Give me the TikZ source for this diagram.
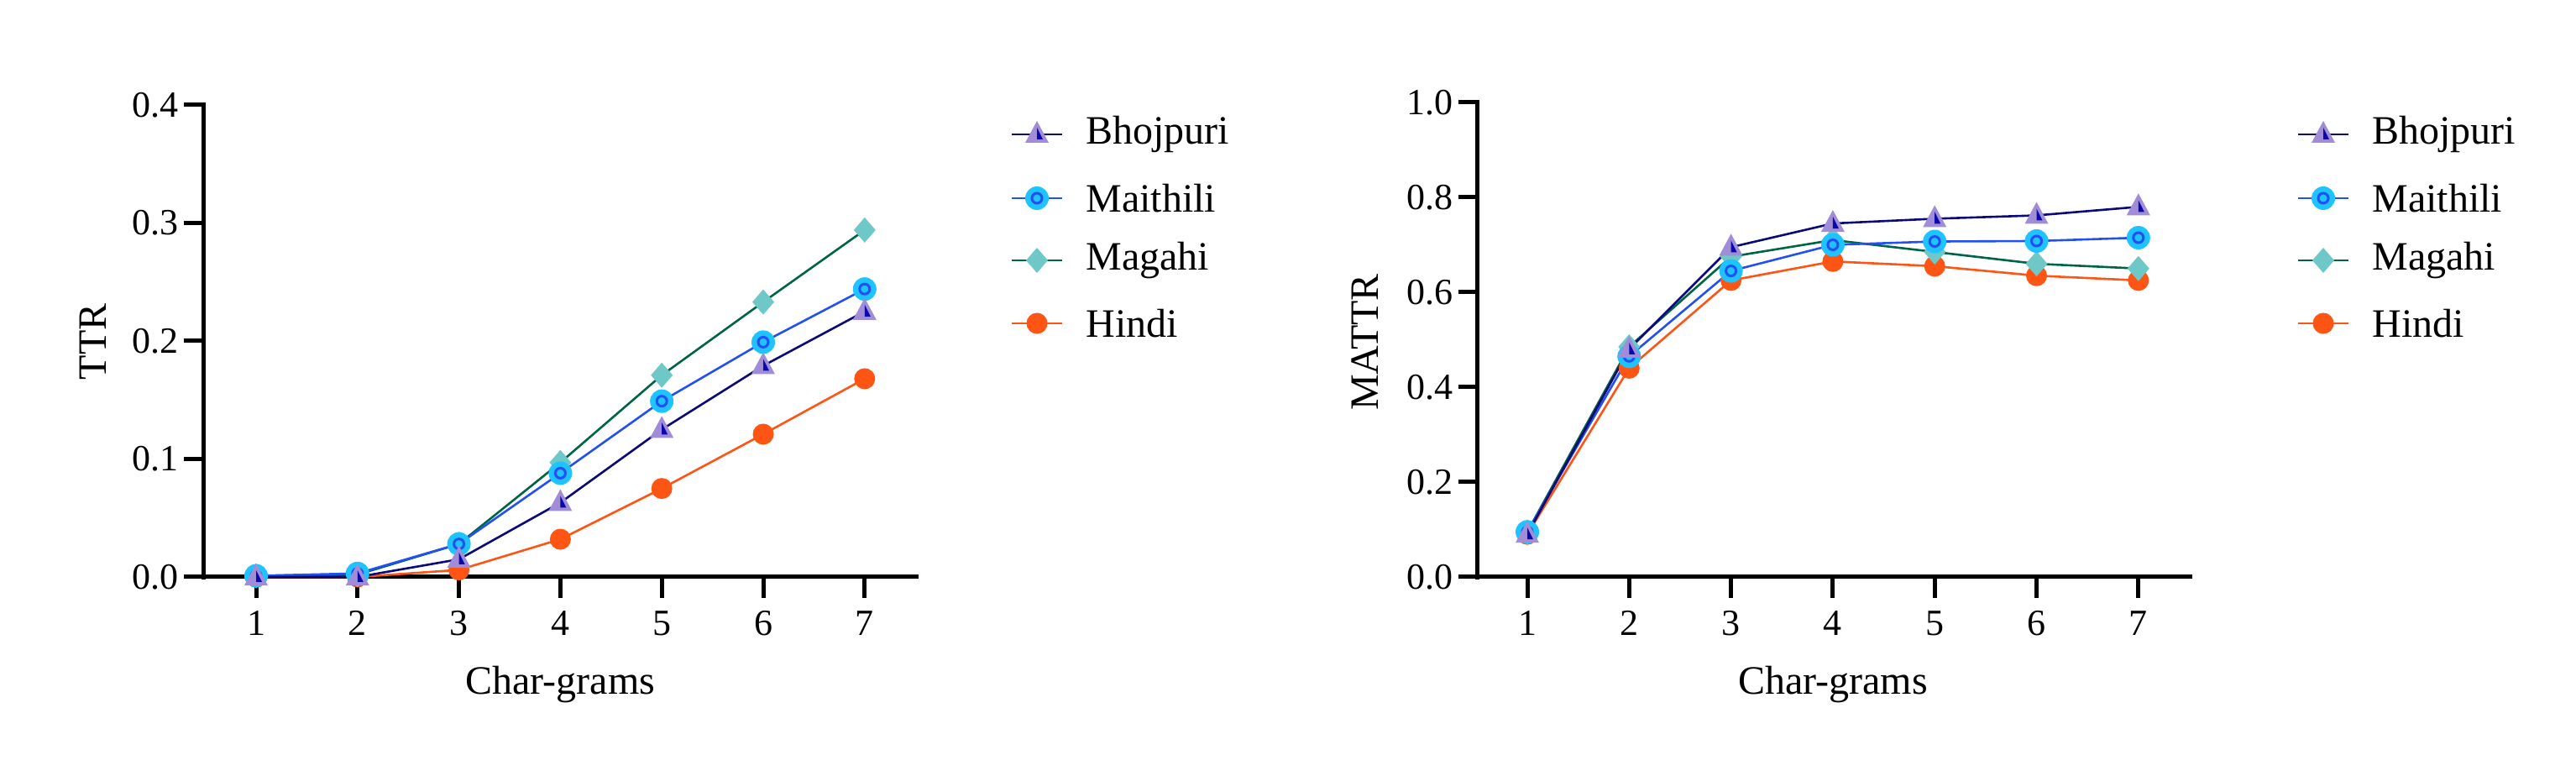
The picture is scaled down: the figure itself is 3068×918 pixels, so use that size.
\documentclass[tikz,border=0pt]{standalone}
\usepackage{fontspec}
\setmainfont{Liberation Serif}
\usetikzlibrary{calc}
\begin{document}
\begin{tikzpicture}[x=1pt,y=1pt,
  axis/.style={line width=5pt},
  tick/.style={line width=5pt},
  ticklab/.style={font=\fontsize{44}{48}\selectfont},
  lab/.style={font=\fontsize{48}{52}\selectfont},
  lbho/.style={draw=bholine,line width=2.6pt},
  lmai/.style={draw=mailine,line width=2.6pt},
  lmag/.style={draw=magline,line width=2.6pt},
  lhin/.style={draw=hinline,line width=2.6pt}]
\definecolor{bholine}{RGB}{10,10,120}
\definecolor{bhofill}{RGB}{160,140,215}
\definecolor{bhodark}{RGB}{10,10,170}
\definecolor{mailine}{RGB}{35,80,240}
\definecolor{maifill}{RGB}{30,195,255}
\definecolor{magline}{RGB}{0,100,70}
\definecolor{magfill}{RGB}{110,200,200}
\definecolor{hinline}{RGB}{255,85,20}
\newcommand\mkbho[1]{\path[fill=bhofill] #1 ++(0pt,16pt) -- ++(-14pt,-26pt) -- ++(28pt,0pt) -- cycle;
  \path[fill=bhodark] #1 ++(0pt,8pt) -- ++(7pt,-14pt) -- ++(-7pt,0pt) -- cycle;}
\newcommand\mkmai[1]{\path[fill=maifill] #1 circle[radius=14pt]; \draw[mailine,line width=3pt] #1 circle[radius=6pt];}
\newcommand\mkmag[1]{\path[fill=magfill] #1 ++(0pt,15pt) -- ++(-13pt,-15pt) -- ++(13pt,-15pt) -- ++(13pt,15pt) -- cycle;}
\newcommand\mkhin[1]{\path[fill=hinline] #1 circle[radius=12.5pt];}
\useasboundingbox (0,0) rectangle (3068,918);
% ---------- left plot
\begin{scope}[shift={(305,231)},x=120.8pt,y=1405pt]
  \draw[axis] (-0.52,0) -- (6.53,0);
  \draw[axis] (-0.52,-0.0018) -- (-0.52,0.4018);
  \foreach \v in {0.0,0.1,0.2,0.3,0.4}{
    \draw[tick] (-0.52,\v) -- ++(-23pt,0);
    \node[ticklab,anchor=east] at ($(-0.52,\v)+(-26pt,0)$) {\v};}
  \foreach \i in {1,...,7}{
    \draw[tick] (\i-1,0) -- ++(0,-25pt);
    \node[ticklab] at ($(\i-1,0)+(0,-55pt)$) {\i};}
  \node[lab] at ($(3,0)+(0,-128pt)$) {Char-grams};
  \node[lab,rotate=90] at ($(-0.52,0.2)+(-131pt,-1pt)$) {TTR};
  \draw[lhin] plot coordinates {(0,0) (1,0) (2,0.006) (3,0.032) (4,0.075) (5,0.121) (6,0.168)};
  \draw[lmag] plot coordinates {(0,0.001) (1,0.002) (2,0.028) (3,0.097) (4,0.171) (5,0.233) (6,0.294)};
  \draw[lmai] plot coordinates {(0,0.001) (1,0.003) (2,0.028) (3,0.088) (4,0.149) (5,0.199) (6,0.244)};
  \draw[lbho] plot coordinates {(0,0) (1,0) (2,0.015) (3,0.063) (4,0.125) (5,0.179) (6,0.225)};
  \foreach \p in {(0,0),(1,0),(2,0.006),(3,0.032),(4,0.075),(5,0.121),(6,0.168)}{\mkhin{\p}}
  \foreach \p in {(0,0.001),(1,0.002),(2,0.028),(3,0.097),(4,0.171),(5,0.233),(6,0.294)}{\mkmag{\p}}
  \foreach \p in {(0,0.001),(1,0.003),(2,0.028),(3,0.088),(4,0.149),(5,0.199),(6,0.244)}{\mkmai{\p}}
  \foreach \p in {(0,0),(1,0),(2,0.015),(3,0.063),(4,0.125),(5,0.179),(6,0.225)}{\mkbho{\p}}
\end{scope}
% ---------- right plot
\begin{scope}[shift={(1819,231)},x=121.3pt,y=565pt]
  \draw[axis] (-0.49,0) -- (6.53,0);
  \draw[axis] (-0.49,-0.0045) -- (-0.49,1.0045);
  \foreach \v in {0.0,0.2,0.4,0.6,0.8,1.0}{
    \draw[tick] (-0.49,\v) -- ++(-23pt,0);
    \node[ticklab,anchor=east] at ($(-0.49,\v)+(-26pt,0)$) {\v};}
  \foreach \i in {1,...,7}{
    \draw[tick] (\i-1,0) -- ++(0,-25pt);
    \node[ticklab] at ($(\i-1,0)+(0,-55pt)$) {\i};}
  \node[lab] at ($(3,0)+(0,-128pt)$) {Char-grams};
  \node[lab,rotate=90] at ($(-0.49,0.5)+(-134pt,-3pt)$) {MATTR};
  \draw[lhin] plot coordinates {(0,0.09) (1,0.44) (2,0.625) (3,0.665) (4,0.655) (5,0.635) (6,0.625)};
  \draw[lmag] plot coordinates {(0,0.095) (1,0.485) (2,0.675) (3,0.71) (4,0.685) (5,0.66) (6,0.65)};
  \draw[lmai] plot coordinates {(0,0.095) (1,0.465) (2,0.645) (3,0.70) (4,0.707) (5,0.708) (6,0.715)};
  \draw[lbho] plot coordinates {(0,0.09) (1,0.48) (2,0.695) (3,0.745) (4,0.755) (5,0.762) (6,0.78)};
  \foreach \p in {(0,0.09),(1,0.44),(2,0.625),(3,0.665),(4,0.655),(5,0.635),(6,0.625)}{\mkhin{\p}}
  \foreach \p in {(0,0.095),(1,0.485),(2,0.675),(3,0.71),(4,0.685),(5,0.66),(6,0.65)}{\mkmag{\p}}
  \foreach \p in {(0,0.095),(1,0.465),(2,0.645),(3,0.70),(4,0.707),(5,0.708),(6,0.715)}{\mkmai{\p}}
  \foreach \p in {(0,0.09),(1,0.48),(2,0.695),(3,0.745),(4,0.755),(5,0.762),(6,0.78)}{\mkbho{\p}}
\end{scope}
% ---------- legends
\foreach \dx in {0,1532}{
  \begin{scope}[shift={(\dx,0)}]
    \draw[lbho] (1205,758) -- (1265,758); \mkbho{(1235,758)}
    \node[lab,anchor=west] at (1290,758) {Bhojpuri};
    \draw[lmai] (1205,682) -- (1265,682); \mkmai{(1235,682)}
    \node[lab,anchor=west] at (1290,682) {Maithili};
    \draw[lmag] (1205,608) -- (1265,608); \mkmag{(1235,608)}
    \node[lab,anchor=west] at (1290,608) {Magahi};
    \draw[lhin] (1205,533) -- (1265,533); \mkhin{(1235,533)}
    \node[lab,anchor=west] at (1290,533) {Hindi};
  \end{scope}}
\end{tikzpicture}
\end{document}
